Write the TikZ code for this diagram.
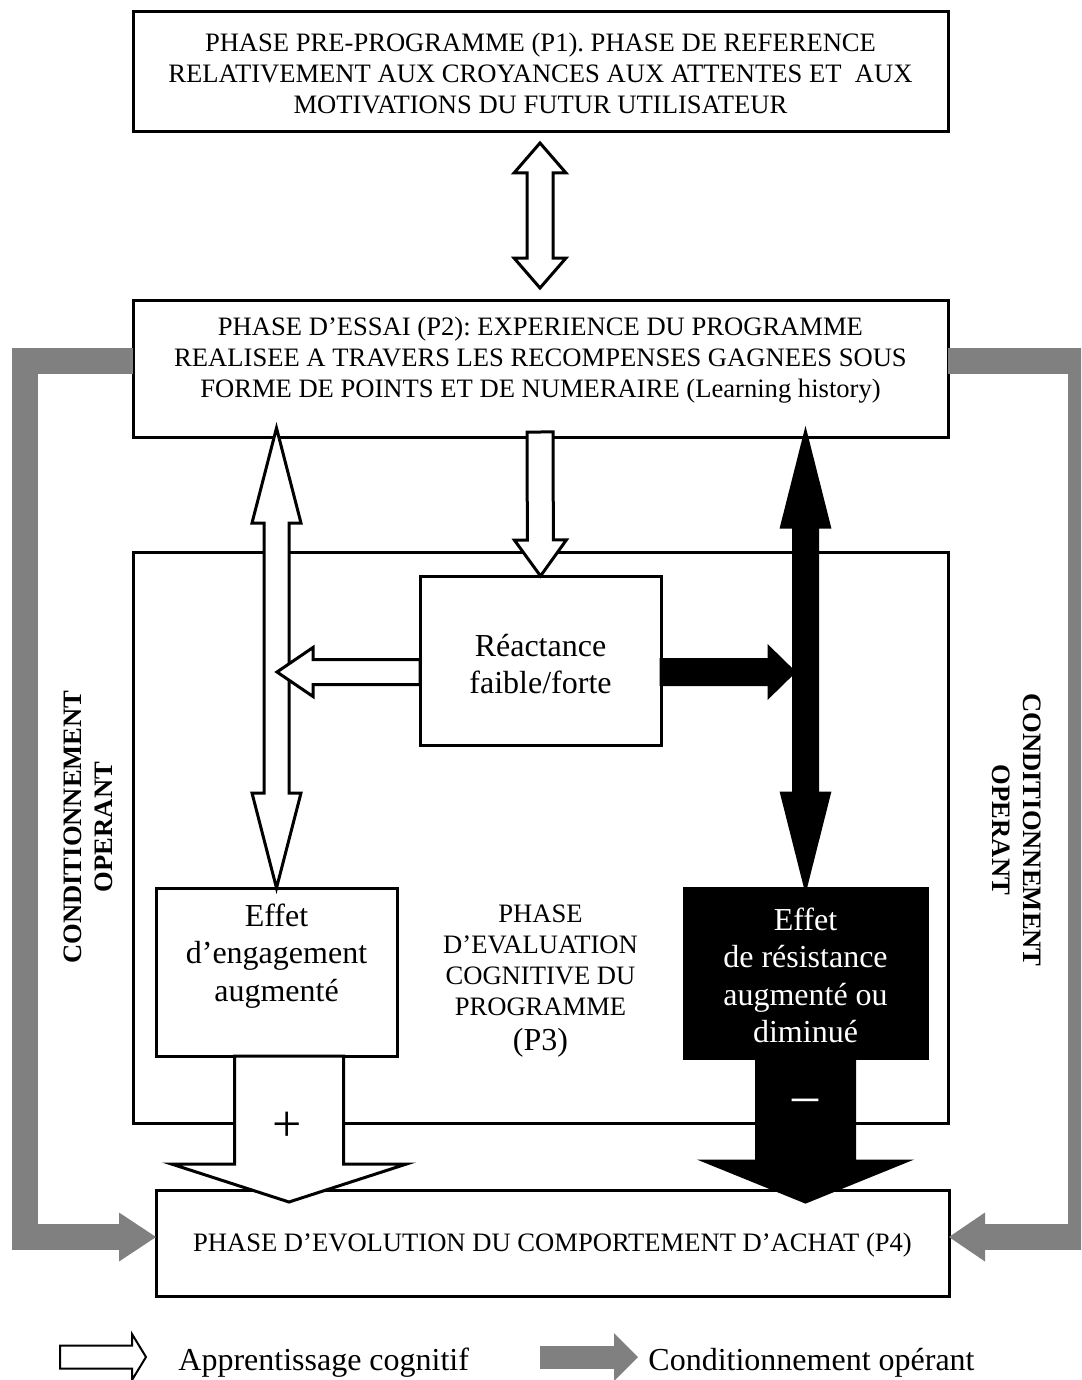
\documentclass[tikz,border=0pt]{standalone}
\usepackage{fontspec}
\setmainfont{Liberation Serif}
\usetikzlibrary{calc,arrows.meta}
\definecolor{opgray}{RGB}{128,128,128}
\frenchspacing
% single fat arrow: #1 style, #2 from, #3 to, #4 shaft half width, #5 head half width, #6 head length
\newcommand\fatarrow[6]{%
  \coordinate (fah) at ($(#3)!#6!(#2)$);
  \path[#1] ($(#2)!#4!90:(#3)$) -- ($(fah)!#4!90:(#3)$) -- ($(fah)!#5!90:(#3)$) -- (#3)
    -- ($(fah)!#5!-90:(#3)$) -- ($(fah)!#4!-90:(#3)$) -- ($(#2)!#4!-90:(#3)$) -- cycle;}
% double fat arrow
\newcommand\fatdarrow[6]{%
  \coordinate (fah) at ($(#3)!#6!(#2)$);
  \coordinate (fag) at ($(#2)!#6!(#3)$);
  \path[#1] (#2) -- ($(fag)!#5!90:(#3)$) -- ($(fag)!#4!90:(#3)$) -- ($(fah)!#4!90:(#3)$)
    -- ($(fah)!#5!90:(#3)$) -- (#3) -- ($(fah)!#5!-90:(#3)$) -- ($(fah)!#4!-90:(#3)$)
    -- ($(fag)!#4!-90:(#3)$) -- ($(fag)!#5!-90:(#3)$) -- cycle;}
\begin{document}
\begin{tikzpicture}[x=0.5pt,y=-0.5pt,
  box/.style={draw=black, line width=1.5pt, fill=white, inner sep=0pt, outer sep=0pt},
  txt/.style={font=\fontsize{13.3}{15.5}\selectfont, align=center, inner sep=0pt},
  bigtxt/.style={font=\fontsize{16}{18.7}\selectfont, align=center, inner sep=0pt},
  boldtxt/.style={font=\fontsize{13.3}{15.5}\selectfont\bfseries, align=center, inner sep=0pt},
  legtxt/.style={font=\fontsize{16}{18}\selectfont, inner sep=0pt},
  warrow/.style={draw=black, fill=white, line width=1.5pt, line join=miter},
  barrow/.style={draw=black, fill=black, line width=1.5pt, line join=miter},
  legwarrow/.style={draw=black, fill=white, line width=1pt, line join=miter},
  gconn/.style={draw=opgray, line width=13pt, line join=miter},
]
\useasboundingbox (0,0) rectangle (1081,1380);
\clip (0,0) rectangle (1081,1380);
\fill[white] (0,0) rectangle (1081,1380);

% boxes
\node[box, minimum width=407.5pt, minimum height=60pt] (p1) at (540.5,72) {};
\node[box, minimum width=407.5pt, minimum height=68.5pt] (p2) at (540.5,368.5) {};
\node[box, minimum width=407.5pt, minimum height=285.5pt] (p3) at (540.5,837.5) {};
\node[box, minimum width=120.5pt, minimum height=84.5pt] (react) at (540.5,660.5) {};
\node[box, minimum width=120.5pt, minimum height=84pt] (effl) at (276.5,972) {};
\node[box, fill=black, minimum width=121.5pt, minimum height=85pt] (effr) at (805.5,973) {};
\node[box, minimum width=396.5pt, minimum height=53pt] (p4) at (552.5,1243) {};

% operant conditioning connectors (grey)
\draw[gconn, -{Triangle[length=18.5pt, width=24.5pt, line width=0pt]}]
  ($(p2.west)+(0,-7.5)$) -| (25,1237) -- ($(p4.west)+(0,-6)$);
\draw[gconn, -{Triangle[length=18pt, width=24.5pt, line width=0pt]}]
  ($(p2.east)+(0,-7.5)$) -| (1081,1237) -- ($(p4.east)+(0,-6)$);

% arrow end points
\coordinate (a1t) at (540,143);
\coordinate (a1b) at (540,288);
\coordinate (a2s) at (540,432);
\coordinate (a3t) at (276.5,428);
\coordinate (a4t) at (805.5,432);
\coordinate (a5s) at ($(react.west)+(0,11.5)$);
\coordinate (a5e) at (277,672);
\coordinate (a6s) at ($(react.east)+(0,11.5)$);
\coordinate (a6e) at (794,672);
\coordinate (a7s) at (289,1056);
\coordinate (a7e) at (289,1202);
\coordinate (a8s) at (805.5,1058);
\coordinate (a8e) at (805.5,1202);

% arrows
\fatdarrow{warrow}{a1t}{a1b}{6.5pt}{13pt}{15pt}
\fatarrow{warrow}{a2s}{react.north}{6.5pt}{13pt}{18pt}
\fatdarrow{warrow}{a3t}{effl.north}{6.25pt}{12.25pt}{47.5pt}
\fatdarrow{barrow}{a4t}{effr.north}{6pt}{12pt}{47.5pt}
\fatarrow{warrow}{a5s}{a5e}{6.25pt}{12.25pt}{18pt}
\fatarrow{barrow}{a6s}{a6e}{6.25pt}{12.25pt}{12.5pt}
\fatarrow{warrow}{a7s}{a7e}{27.25pt}{58.75pt}{19pt}
\fatarrow{barrow}{a8s}{a8e}{24.5pt}{50.5pt}{20.5pt}

% texts
\node[txt] (t1) at (540.5,73) {PHASE PRE-PROGRAMME (P1). PHASE DE REFERENCE\\RELATIVEMENT AUX CROYANCES AUX ATTENTES ET\ \ AUX\\MOTIVATIONS DU FUTUR UTILISATEUR};
\node[txt] (t2) at (540.5,360) {PHASE D’ESSAI (P2): EXPERIENCE DU PROGRAMME\\REALISEE A TRAVERS LES RECOMPENSES GAGNEES SOUS\\FORME DE POINTS ET DE NUMERAIRE (Learning history)};
\node[bigtxt] (tr) at (540.5,664) {Réactance\\faible/forte};
\node[bigtxt] (tel) at (276.5,956) {Effet\\d’engagement\\augmenté};
\node[bigtxt, text=white] (ter) at (805.5,975.5) {Effet\\de résistance\\augmenté ou\\diminué};
\node[txt] (t3) at (540.5,960) {PHASE\\D’EVALUATION\\COGNITIVE DU\\PROGRAMME};
\node[bigtxt] (t3b) at (540.5,1043) {(P3)};
\node[txt] (t4) at (552.5,1245) {PHASE D’EVOLUTION DU COMPORTEMENT D’ACHAT (P4)};
\node[font=\fontsize{26}{26}\selectfont, inner sep=0pt] (plus) at (287,1127) {+};
\node[font=\fontsize{26}{26}\selectfont, text=white, inner sep=0pt] (minus) at (805.5,1106) {–};
\node[boldtxt, rotate=90] (cl) at (88,827) {CONDITIONNEMENT\\OPERANT};
\node[boldtxt, rotate=-90] (cr) at (1017,830) {CONDITIONNEMENT\\OPERANT};

% legend
\coordinate (l1s) at (60,1357);
\coordinate (l1e) at (146,1357);
\fatarrow{legwarrow}{l1s}{l1e}{5.75pt}{11.5pt}{7pt}
\node[legtxt, anchor=base west] (lt1) at (178,1370) {Apprentissage cognitif};
\coordinate (l2s) at (540,1357);
\coordinate (l2e) at (638,1357);
\draw[draw=opgray, line width=11.5pt, -{Triangle[length=12pt, width=24pt, line width=0pt]}] (l2s) -- (l2e);
\node[legtxt, anchor=base west] (lt2) at (648,1370) {Conditionnement opérant};
\end{tikzpicture}
\end{document}
